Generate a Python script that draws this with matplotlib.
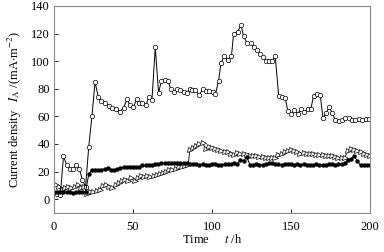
import matplotlib
matplotlib.use("Agg")
import matplotlib.pyplot as plt

# Courbe à cercles ouverts
t_open = [2, 4, 6, 8, 10, 12, 14, 16, 18, 20, 22, 24, 26, 28, 30, 32.5, 34.6, 37,
          39.2, 41.5, 44, 46.2, 48, 50.2, 52.3, 54, 56, 58.2, 60, 62, 64.1, 66.2, 68,
          70, 72.2, 73.8, 75.9, 78, 80, 82.5, 84, 86, 87.5, 89.5, 92, 94.2, 96.3, 98.4,
          100.5, 102.2, 104.2, 105.7, 107.8, 110, 112.3, 113.7, 116.2, 118.4, 120, 122,
          124.6, 126.4, 128.5, 130.5, 132.5, 134.2, 136.2, 138.3, 140, 142.2, 144.3,
          146.4, 148, 150.2, 152, 154.2, 156.3, 158.4, 160.5, 162.6, 164.3, 166.4,
          168.5, 170.3, 172.2, 174.3, 176, 178, 180.3, 182.4, 184.5, 186.6, 188.7,
          190.8, 193, 195, 197.2, 199.3]
v_open = [4, 3, 31, 25, 22, 22, 25, 22, 14, 9, 38, 60, 85, 74, 71.5, 69.5, 67.5, 66,
          65.5, 63.5, 66, 72.5, 68, 66.5, 72.5, 70, 69.5, 68, 74, 72, 110, 77, 86,
          86.5, 85.5, 80, 78, 80, 79, 77.5, 77, 80, 79, 79, 75.5, 80, 78.5, 78.5,
          77.5, 76, 86, 98.5, 104, 101, 103.5, 120, 121.5, 126, 118, 113.5,
          113.5, 110, 108, 105.5, 103, 100.5, 100.5, 100.5, 104, 75, 74,
          73, 64, 61.5, 64.5, 62, 65, 63.5, 65, 65.5, 75, 76.5,
          75.5, 58.5, 62.5, 66.5, 62.5, 57.5, 56.5, 57.5, 58.5, 59, 57.5,
          57.5, 58, 57.5, 58, 58]

# Courbe à triangles ouverts
t_tri = [1, 3, 5, 7, 9, 11, 13, 15, 17, 19, 21, 23, 25, 27, 29, 31, 33, 35, 37, 39,
         41, 43, 45, 47, 49, 51, 53, 55, 57, 59, 61, 63, 65, 67, 69, 71, 73, 75, 77,
         79, 81, 83, 85, 86, 88, 90, 92, 94, 96, 98, 100, 102, 104, 106, 108, 110,
         112, 114, 116, 118, 120, 122, 124, 126, 128, 130, 132, 134, 136, 138, 140,
         142, 144, 146, 148, 150, 152, 154, 156, 158, 160, 162, 164, 166, 168, 170,
         172, 174, 176, 178, 180, 182, 184, 186, 188, 190, 192, 194, 196, 198, 200]
v_tri = [10, 9, 7, 8, 9, 8, 9, 10, 8, 9, 4, 5.5, 5.5, 6, 7, 9.5, 10, 9, 8, 10,
         12, 13, 14, 13, 15.5, 13, 15, 17, 16, 17, 16, 17, 17.5, 18, 19, 19.5, 21, 21.5, 22,
         23, 23, 24, 25, 36, 37, 38.5, 40, 41, 36.5, 37.5, 37, 36.5, 36, 35, 34.5, 34,
         33, 32, 33.5, 33, 32.5, 32, 31.5, 31.5, 31, 30.5, 30.5, 30, 30, 30, 29.5,
         32, 33, 34, 35, 36, 35, 34.5, 33, 33.5, 33, 32.5, 32.5, 32, 32, 32,
         31.5, 31, 31, 30.5, 30, 30, 30, 35, 36.5, 36, 35, 34, 33, 32, 31]

# Courbe à cercles pleins
t_fill = list(range(0, 201, 2))
v_fill = [5.5, 5.5, 5, 5.5, 5, 5, 4.5, 5, 5, 5.5, 5.5,
          18, 21.5, 21.5, 21, 21.5, 22, 22.5, 21.5, 21, 22, 22.5, 23, 23.5, 23.5,
          23.5, 23, 23.5, 24.5, 24.5, 25, 25, 25.5, 25.5, 26, 26, 26, 26.5, 26.5,
          26.5, 26, 26, 26, 25.5, 25.5, 25.5, 25, 25.5, 25, 25, 25.5, 25.5, 25, 25,
          25.5, 25.5, 25.5, 26, 25.5, 28.5, 28, 30.5, 25, 25, 25.5, 25, 25, 25.5,
          26, 26, 25.5, 25.5, 25, 25.5, 25.5, 25.5, 25, 25.5, 25, 25.5, 25, 25, 25,
          25.5, 25, 25, 25, 25.5, 25.5, 25, 25.5, 25.5, 26, 28.5, 29, 31, 28, 24.5,
          25, 25, 25]

x_ticks = [0, 50, 100, 150, 200]
y_ticks = [0, 20, 40, 60, 80, 100, 120, 140]

plt.rcParams['font.family'] = ['Liberation Serif', 'DejaVu Serif']
plt.rcParams['mathtext.fontset'] = 'stix'
plt.rcParams['font.size'] = 9

fig = plt.figure(figsize=(3.84, 2.52), dpi=100)
ax = fig.add_axes([0.1406, 0.1548, 0.8229, 0.8214])

ax.plot(t_tri, v_tri, color='black', linewidth=0.6, marker='>',
        markersize=3.6, markerfacecolor='white', markeredgewidth=0.5)
ax.plot(t_open, v_open, color='black', linewidth=0.7, marker='o',
        markersize=3.2, markerfacecolor='white', markeredgewidth=0.5)
ax.plot(t_fill, v_fill, color='black', linewidth=0.7, marker='o',
        markersize=2.8, markerfacecolor='black', markeredgewidth=0.3)

ax.set_xlim(0, 200)
ax.set_ylim(-10, 140)
ax.set_xticks(x_ticks)
ax.set_yticks(y_ticks)
ax.tick_params(direction='in', length=3, width=0.6, labelsize=9)
ax.tick_params(axis='x', pad=6)
ax.tick_params(axis='y', pad=3)

for s in ax.spines.values():
    s.set_color('#888888')
    s.set_linewidth(0.8)

ax.set_xlabel(r'Time     $t$ /h', fontsize=9, labelpad=0)
ax.set_ylabel(r'Current density   $I_\mathrm{A}$ /(mA$\cdot$m$^{-2}$)', fontsize=9, labelpad=5)

plt.savefig("out.png", dpi=100)
